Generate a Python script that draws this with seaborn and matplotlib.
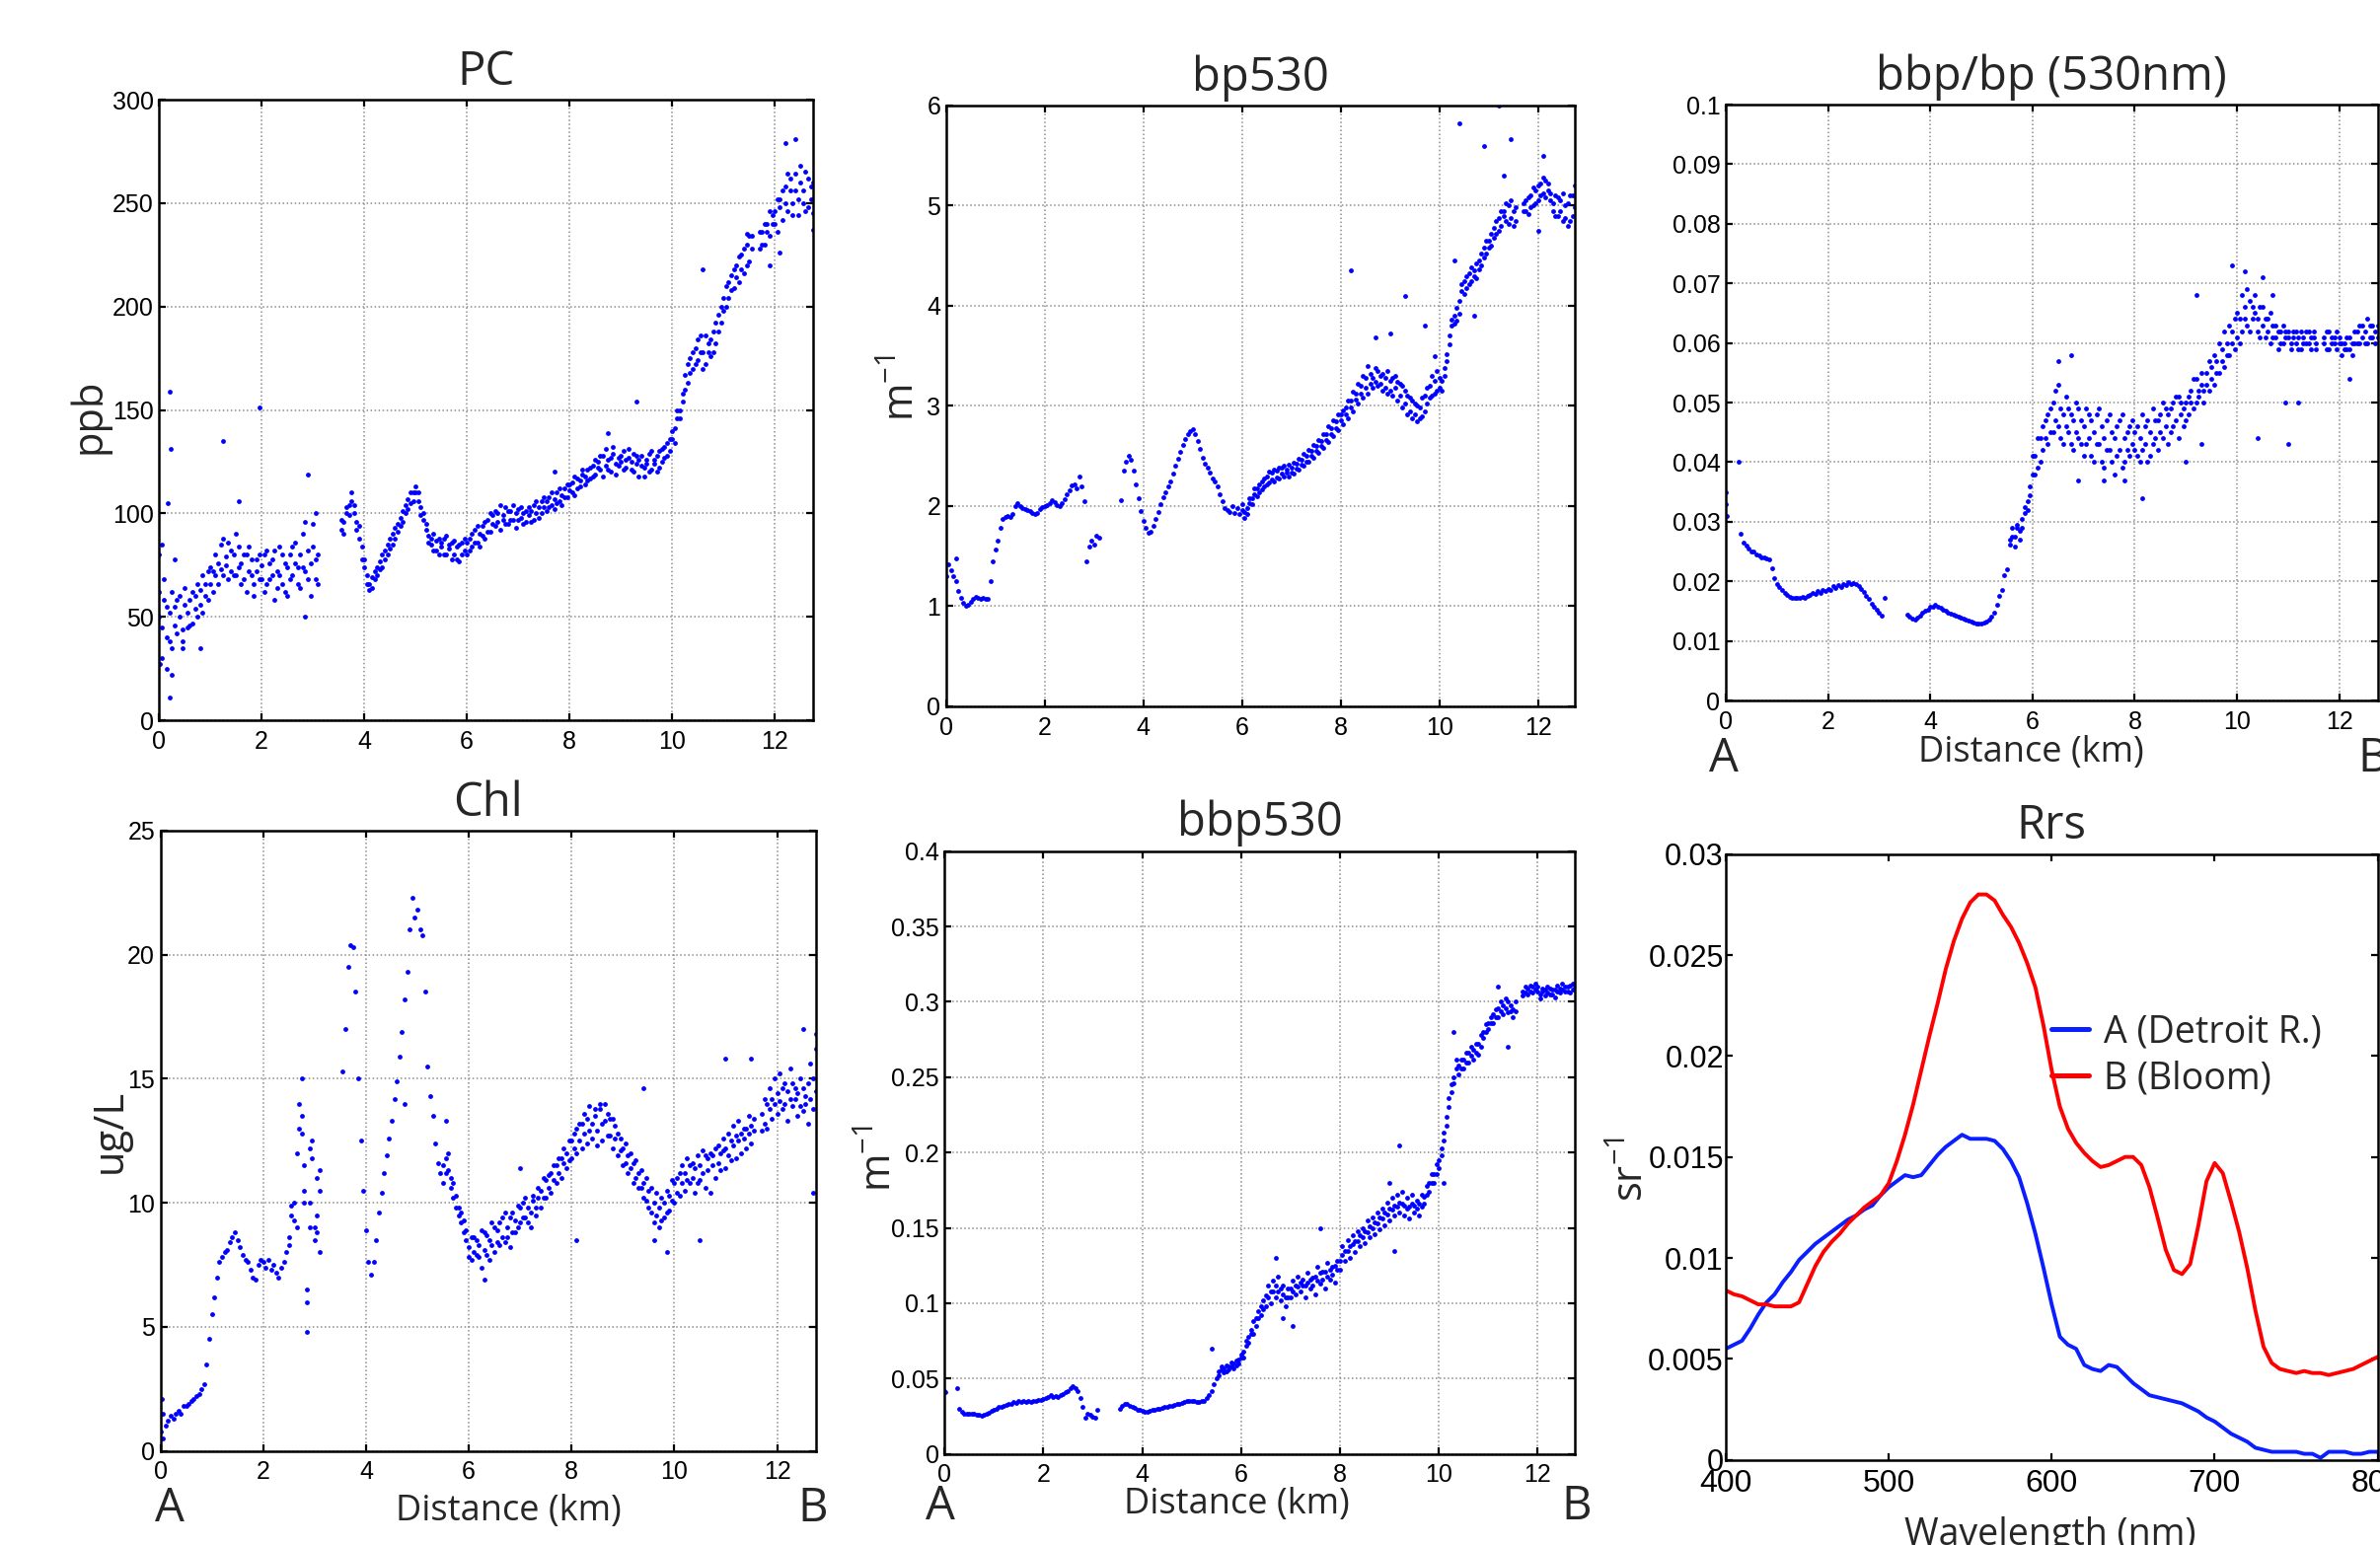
import numpy as np
import matplotlib
matplotlib.use("Agg")
import matplotlib.pyplot as plt
import seaborn as sns
from matplotlib.ticker import FuncFormatter, MultipleLocator

NA = np.nan

# ---- along-track samples (km from A to B) ----
dist_km = [
    0.00, 0.05, 0.10, 0.15, 0.20, 0.25, 0.30, 0.35, 0.40, 0.45, 0.50, 0.55, 0.60, 0.65, 0.70, 0.75, 0.80, 0.85, 0.90, 0.95,
    1.00, 1.05, 1.10, 1.15, 1.20, 1.25, 1.30, 1.35, 1.40, 1.45, 1.50, 1.55, 1.60, 1.65, 1.70, 1.75, 1.80, 1.85, 1.90, 1.95,
    2.00, 2.05, 2.10, 2.15, 2.20, 2.25, 2.30, 2.35, 2.40, 2.45, 2.50, 2.55, 2.60, 2.65, 2.70, 2.75, 2.80, 2.85, 2.90, 2.95,
    3.00, 3.05, 3.10, 3.15, 3.20, 3.25, 3.30, 3.35, 3.40, 3.45, 3.50, 3.55, 3.60, 3.65, 3.70, 3.75, 3.80, 3.85, 3.90, 3.95,
    4.00, 4.05, 4.10, 4.15, 4.20, 4.25, 4.30, 4.35, 4.40, 4.45, 4.50, 4.55, 4.60, 4.65, 4.70, 4.75, 4.80, 4.85, 4.90, 4.95,
    5.00, 5.05, 5.10, 5.15, 5.20, 5.25, 5.30, 5.35, 5.40, 5.45, 5.50, 5.55, 5.60, 5.65, 5.70, 5.75, 5.80, 5.85, 5.90, 5.95,
    6.00, 6.05, 6.10, 6.15, 6.20, 6.25, 6.30, 6.35, 6.40, 6.45, 6.50, 6.55, 6.60, 6.65, 6.70, 6.75, 6.80, 6.85, 6.90, 6.95,
    7.00, 7.05, 7.10, 7.15, 7.20, 7.25, 7.30, 7.35, 7.40, 7.45, 7.50, 7.55, 7.60, 7.65, 7.70, 7.75, 7.80, 7.85, 7.90, 7.95,
    8.00, 8.05, 8.10, 8.15, 8.20, 8.25, 8.30, 8.35, 8.40, 8.45, 8.50, 8.55, 8.60, 8.65, 8.70, 8.75, 8.80, 8.85, 8.90, 8.95,
    9.00, 9.05, 9.10, 9.15, 9.20, 9.25, 9.30, 9.35, 9.40, 9.45, 9.50, 9.55, 9.60, 9.65, 9.70, 9.75, 9.80, 9.85, 9.90, 9.95,
    10.00, 10.05, 10.10, 10.15, 10.20, 10.25, 10.30, 10.35, 10.40, 10.45, 10.50, 10.55, 10.60, 10.65, 10.70, 10.75, 10.80, 10.85, 10.90, 10.95,
    11.00, 11.05, 11.10, 11.15, 11.20, 11.25, 11.30, 11.35, 11.40, 11.45, 11.50, 11.55, 11.60, 11.65, 11.70, 11.75, 11.80, 11.85, 11.90, 11.95,
    12.00, 12.05, 12.10, 12.15, 12.20, 12.25, 12.30, 12.35, 12.40, 12.45, 12.50, 12.55, 12.60, 12.65, 12.70, 12.75,
]

# PC (ppb): two readings per sample across the noisy band
pc_ppb = [
    62, 30, 58, 40, 52, 35, 55, 42, 60, 44, 56, 45, 58, 47, 60, 50, 63, 52, 66, 58,
    66, 72, 70, 76, 73, 88, 75, 68, 82, 70, 90, 74, 66, 80, 62, 84, 70, 60, 78, 68,
    75, 62, 82, 68, 78, 58, 72, 84, 66, 76, 60, 80, 70, 86, 74, 64, 90, 72, 82, 60,
    95, 68, 80, NA, NA, NA, NA, NA, NA, NA, NA, 92, 96, 100, 104, 106, 100, 96, 88, 78,
    74, 70, 63, 69, 68, 74, 73, 80, 78, 85, 83, 90, 88, 95, 94, 101, 100, 107, 105, 110,
    110, 106, 103, 97, 92, 89, 85, 90, 82, 88, 84, 80, 89, 83, 78, 87, 84, 77, 86, 82,
    80, 88, 84, 92, 86, 90, 94, 88, 97, 91, 99, 94, 100, 92, 97, 103, 95, 101, 97, 93,
    97, 103, 95, 101, 99, 96, 104, 100, 98, 106, 103, 101, 108, 104, 102, 110, 106, 104, 112, 108,
    111, 115, 109, 117, 113, 119, 114, 121, 117, 123, 119, 125, 121, 128, 123, 126, 120, 129, 124, 127,
    125, 130, 122, 127, 121, 129, 124, 118, 128, 122, 126, 120, 130, 124, 128, 122, 131, 127, 134, 130,
    136, 141, 146, 150, 158, 167, 163, 175, 170, 180, 174, 186, 178, 172, 182, 176, 188, 182, 196, 192,
    198, 210, 204, 215, 209, 220, 212, 225, 216, 230, 222, 234, NA, NA, 228, 236, 230, 240, 234, 244,
    246, 236, 252, 242, 258, 246, 262, 250, 256, 244, 260, 250, 265, 248, 258, 245,
]
pc_ppb_2 = [
    50, 45, 68, 55, 38, 62, 46, 58, 50, 38, 64, 52, 46, 62, 54, 66, 56, 70, 60, 72,
    74, 62, 80, 66, 85, 70, 79, 86, 72, 80, 70, 84, 76, 68, 80, 72, 78, 66, 72, 80,
    68, 80, 66, 76, 70, 82, 64, 70, 80, 62, 74, 68, 84, 76, 66, 80, 74, 96, 68, 76,
    84, 78, 66, NA, NA, NA, NA, NA, NA, NA, NA, 97, 90, 103, 99, 110, 104, 92, 94, 84,
    78, 66, 66, 64, 72, 70, 77, 74, 82, 80, 88, 85, 93, 91, 98, 96, 104, 102, 110, 106,
    113, 110, 99, 100, 95, 86, 88, 82, 87, 80, 86, 88, 80, 85, 86, 80, 78, 85, 80, 88,
    86, 82, 90, 86, 94, 84, 89, 96, 91, 100, 95, 101, 96, 104, 99, 95, 101, 97, 104, 100,
    102, 98, 100, 96, 103, 101, 97, 106, 103, 100, 108, 106, 103, 110, 107, 105, 112, 109, 108, 114,
    114, 110, 118, 112, 116, 121, 118, 116, 122, 118, 126, 122, 128, 118, 131, 121, 127, 132, 119, 123,
    128, 121, 126, 131, 125, 120, 128, 126, 123, 118, 124, 129, 121, 126, 120, 130, 125, 132, 128, 136,
    140, 134, 150, 146, 154, 160, 172, 168, 178, 172, 184, 178, 170, 186, 178, 184, 178, 192, 188, 200,
    204, 200, 212, 208, 218, 214, 224, 218, 228, 220, 234, 228, NA, NA, 236, 230, 240, 236, 246, 240,
    240, 252, 248, 256, 250, 264, 256, 244, 264, 252, 268, 256, 246, 262, 252, 260,
]
pc_extra = [(0.20, 159), (0.22, 131), (0.18, 105), (0.20, 11), (0.24, 22), (0.05, 85),
            (0.00, 80), (0.02, 27), (0.30, 78), (0.15, 25), (0.45, 35), (0.80, 35),
            (1.25, 135), (1.95, 151), (1.55, 106), (2.90, 119), (2.85, 50), (3.05, 100),
            (7.70, 120), (8.75, 139), (9.30, 154), (10.60, 218), (11.45, 235),
            (11.90, 220), (12.10, 226), (12.20, 279), (12.40, 281), (12.75, 237)]

# bp530 (1/m)
bp_m1 = [
    1.30, 1.42, 1.36, 1.30, 1.25, 1.15, 1.08, 1.03, 1.00, 1.01, 1.04, 1.07, 1.09, 1.08, 1.07, 1.08, 1.07, 1.07, 1.25, 1.45,
    1.57, 1.65, 1.78, 1.87, 1.89, 1.90, 1.89, 1.92, 2.00, 2.03, 2.00, 1.98, 1.97, 1.96, 1.95, 1.93, 1.92, 1.93, 1.97, 1.99,
    2.00, 2.01, 2.03, 2.06, 2.04, 2.01, 2.00, 2.03, 2.07, 2.12, 2.16, 2.21, 2.22, 2.18, 2.30, 2.20, 2.05, 1.45, 1.60, 1.65,
    1.62, 1.70, 1.68, NA, NA, NA, NA, NA, NA, NA, NA, 2.06, 2.35, 2.44, 2.50, 2.46, 2.35, 2.22, 2.08, 1.95,
    1.85, 1.78, 1.73, 1.74, 1.80, 1.87, 1.94, 2.02, 2.09, 2.14, 2.20, 2.25, 2.32, 2.40, 2.47, 2.54, 2.61, 2.67, 2.72, 2.75,
    2.77, 2.72, 2.65, 2.57, 2.48, 2.42, 2.38, 2.33, 2.28, 2.25, 2.20, 2.12, 2.05, 1.98, 1.96, 1.94, 2.00, 1.93, 1.98, 1.92,
    1.96, 1.88, 1.98, 2.03, 2.08, 2.12, 2.18, 2.14, 2.25, 2.20, 2.30, 2.24, 2.33, 2.25, 2.35, 2.28, 2.38, 2.30, 2.36, 2.30,
    2.38, 2.32, 2.42, 2.36, 2.46, 2.40, 2.50, 2.44, 2.55, 2.48, 2.60, 2.53, 2.65, 2.58, 2.72, 2.64, 2.78, 2.70, 2.85, 2.76,
    2.92, 2.82, 2.98, 2.88, 3.05, 2.95, 3.12, 3.02, 3.20, 3.08, 3.28, 3.12, 3.32, 3.18, 3.38, 3.20, 3.30, 3.15, 3.28, 3.12,
    3.25, 3.10, 3.30, 3.05, 3.22, 2.98, 3.15, 2.92, 3.08, 2.88, 3.02, 2.85, 2.98, 2.90, 3.10, 3.02, 3.20, 3.10, 3.25, 3.15,
    3.18, 3.25, 3.30, 3.45, 3.62, 3.80, 3.90, 3.85, 4.05, 4.15, 4.25, 4.18, 4.32, 4.25, 4.35, 4.28, 4.45, 4.40, 4.58, 4.52,
    4.65, 4.60, 4.78, 4.72, 4.88, 4.80, 4.95, 4.85, 5.00, 4.88, 4.95, 4.85, NA, NA, 4.95, 5.05, 4.92, 5.10, 5.00, 5.15,
    5.05, 5.22, 5.12, 5.25, 5.15, 5.05, 4.95, 5.10, 4.90, 5.05, 4.85, 5.00, 4.80, 5.10, 4.90, 5.20,
]
bp_m1_2 = [
    NA, NA, NA, NA, NA, NA, NA, NA, NA, NA, NA, NA, NA, NA, NA, NA, NA, NA, NA, NA,
    NA, NA, NA, NA, NA, NA, NA, NA, NA, NA, NA, NA, NA, NA, NA, NA, NA, NA, NA, NA,
    NA, NA, NA, NA, NA, NA, NA, NA, NA, NA, NA, NA, NA, NA, NA, NA, NA, NA, NA, NA,
    NA, NA, NA, NA, NA, NA, NA, NA, NA, NA, NA, NA, NA, NA, NA, NA, NA, NA, NA, NA,
    NA, NA, NA, NA, NA, NA, NA, NA, NA, NA, NA, NA, NA, NA, NA, NA, NA, NA, NA, NA,
    NA, NA, NA, NA, NA, NA, NA, NA, NA, NA, NA, NA, NA, NA, NA, NA, NA, NA, NA, NA,
    2.02, 1.94, 1.92, 2.08, 2.02, 2.18, 2.10, 2.22, 2.17, 2.28, 2.22, 2.34, 2.27, 2.36, 2.29, 2.38, 2.32, 2.40, 2.33, 2.41,
    2.33, 2.43, 2.37, 2.47, 2.41, 2.52, 2.44, 2.56, 2.50, 2.61, 2.55, 2.66, 2.60, 2.72, 2.66, 2.80, 2.72, 2.86, 2.78, 2.92,
    2.86, 2.96, 2.92, 3.05, 2.98, 3.14, 3.06, 3.22, 3.12, 3.30, 3.18, 3.40, 3.22, 3.28, 3.24, 3.35, 3.22, 3.32, 3.18, 3.35,
    3.15, 3.28, 3.18, 3.24, 3.10, 3.20, 3.02, 3.10, 2.95, 3.05, 2.92, 3.00, 2.88, 3.08, 2.95, 3.18, 3.08, 3.30, 3.12, 3.35,
    3.28, 3.15, 3.38, 3.52, 3.70, 3.86, 3.82, 3.98, 3.92, 4.22, 4.12, 4.30, 4.22, 4.38, 4.30, 4.42, 4.36, 4.52, 4.48, 4.65,
    4.58, 4.72, 4.68, 4.85, 4.75, 4.95, 4.90, 5.02, 4.82, 5.05, 4.80, 4.98, NA, NA, 5.02, 4.95, 5.08, 4.98, 5.18, 5.02,
    5.20, 5.10, 5.28, 5.08, 5.22, 5.12, 5.02, 4.90, 5.08, 4.95, 5.12, 4.88, 5.02, 4.85, 5.10, 4.98,
]
bp_extra = [(0.20, 1.48), (8.20, 4.35), (8.70, 3.68), (9.00, 3.72), (9.30, 4.10), (9.70, 3.80),
            (9.90, 3.50), (10.30, 4.45), (10.40, 5.82), (10.70, 3.90), (10.90, 5.60),
            (11.20, 6.00), (11.30, 5.30), (11.45, 5.66), (12.00, 4.75), (12.10, 5.50)]

# bbp/bp at 530 nm
ratio = [
    0.035, NA, NA, NA, NA, 0.040, 0.028, 0.0265, 0.026, 0.0255, 0.025, 0.025, 0.0245, 0.0243, 0.024, 0.024, 0.0238, 0.0236, 0.0222, 0.0205,
    0.0195, 0.019, 0.0185, 0.018, 0.0177, 0.0174, 0.0173, 0.0172, 0.0173, 0.0172, 0.0174, 0.0173, 0.0176, 0.0178, 0.0181, 0.0179, 0.0183, 0.0181, 0.0185, 0.0183,
    0.0187, 0.0185, 0.0192, 0.0188, 0.0194, 0.019, 0.0196, 0.0193, 0.0198, 0.0195, 0.0197, 0.0195, 0.0192, 0.0187, 0.0182, 0.0176, 0.017, 0.0163, 0.0158, 0.0152,
    0.0148, 0.0143, 0.0172, NA, NA, NA, NA, NA, NA, NA, NA, 0.0144, 0.014, 0.0137, 0.0136, 0.0139, 0.0143, 0.0147, 0.015, 0.0153,
    0.0158, 0.0157, 0.0161, 0.0158, 0.0155, 0.0153, 0.015, 0.0148, 0.0146, 0.0144, 0.0142, 0.014, 0.0139, 0.0137, 0.0136, 0.0134, 0.0133, 0.0131, 0.013, 0.0129,
    0.013, 0.0131, 0.0133, 0.0136, 0.014, 0.0148, 0.016, 0.0175, 0.0185, 0.021, 0.022, 0.0262, 0.0275, 0.0258, 0.029, 0.027, 0.0305, 0.0315, 0.0335, 0.036,
    0.038, 0.041, 0.039, 0.044, 0.042, 0.047, 0.043, 0.049, 0.045, 0.052, 0.046, 0.049, 0.043, 0.051, 0.045, 0.048, 0.042, 0.050, 0.044, 0.047,
    0.041, 0.049, 0.044, 0.047, 0.040, 0.048, 0.043, 0.046, 0.039, 0.047, 0.042, 0.045, 0.038, 0.046, 0.042, 0.048, 0.040, 0.045, 0.041, 0.047,
    0.042, 0.046, 0.040, 0.048, 0.043, 0.047, 0.041, 0.049, 0.044, 0.047, 0.045, 0.050, 0.046, 0.048, 0.045, 0.050, 0.047, 0.051, 0.048, 0.046,
    0.050, 0.048, 0.052, 0.049, 0.054, 0.051, 0.053, 0.050, 0.055, 0.052, 0.056, 0.053, 0.057, 0.055, 0.059, 0.056, 0.060, 0.058, 0.062, 0.059,
    0.061, 0.064, 0.062, 0.066, 0.063, 0.067, 0.064, 0.065, 0.062, 0.066, 0.063, 0.061, 0.064, 0.060, 0.063, 0.061, 0.059, 0.062, 0.060, 0.062,
    0.061, 0.059, 0.062, 0.060, 0.061, 0.059, 0.061, 0.060, 0.062, 0.059, 0.061, 0.060, NA, NA, 0.061, 0.059, 0.062, 0.060, 0.061, 0.059,
    0.060, 0.058, 0.060, 0.059, 0.061, 0.058, 0.062, 0.060, 0.063, 0.061, 0.062, 0.060, 0.063, 0.061, 0.062, 0.061,
]
ratio_2 = [
    NA, NA, NA, NA, NA, NA, NA, NA, NA, NA, NA, NA, NA, NA, NA, NA, NA, NA, NA, NA,
    NA, NA, NA, NA, NA, NA, NA, NA, NA, NA, NA, NA, NA, NA, NA, NA, NA, NA, NA, NA,
    NA, NA, NA, NA, NA, NA, NA, NA, NA, NA, NA, NA, NA, NA, NA, NA, NA, NA, NA, NA,
    NA, NA, NA, NA, NA, NA, NA, NA, NA, NA, NA, NA, NA, NA, NA, NA, NA, NA, NA, NA,
    NA, NA, NA, NA, NA, NA, NA, NA, NA, NA, NA, NA, NA, NA, NA, NA, NA, NA, NA, NA,
    NA, NA, NA, NA, NA, NA, NA, NA, NA, NA, NA, 0.027, 0.029, 0.0275, 0.0295, 0.0285, 0.029, 0.0325, 0.032, 0.0345,
    0.041, 0.038, 0.044, 0.040, 0.046, 0.044, 0.048, 0.045, 0.050, 0.047, 0.053, 0.044, 0.048, 0.046, 0.049, 0.043, 0.047, 0.045, 0.049, 0.043,
    0.046, 0.043, 0.048, 0.041, 0.045, 0.043, 0.049, 0.040, 0.044, 0.042, 0.048, 0.040, 0.044, 0.041, 0.047, 0.039, 0.044, 0.042, 0.046, 0.043,
    0.045, 0.041, 0.044, 0.042, 0.046, 0.040, 0.045, 0.043, 0.047, 0.042, 0.048, 0.044, 0.049, 0.043, 0.049, 0.046, 0.051, 0.044, 0.050, 0.049,
    0.047, 0.051, 0.050, 0.054, 0.050, 0.052, 0.055, 0.052, 0.053, 0.057, 0.054, 0.058, 0.055, 0.060, 0.057, 0.062, 0.058, 0.063, 0.060, 0.064,
    0.065, 0.060, 0.068, 0.064, 0.069, 0.062, 0.066, 0.068, 0.064, 0.061, 0.066, 0.064, 0.062, 0.065, 0.061, 0.063, 0.062, 0.060, 0.063, 0.061,
    0.062, 0.060, 0.061, 0.062, 0.059, 0.062, 0.060, 0.062, 0.060, 0.061, 0.062, 0.059, NA, NA, 0.060, 0.062, 0.059, 0.061, 0.060, 0.062,
    0.061, 0.060, 0.059, 0.061, 0.059, 0.060, 0.060, 0.062, 0.060, 0.063, 0.060, 0.064, 0.061, 0.063, 0.060, 0.063,
]
ratio_extra = [(0.01, 0.033), (0.02, 0.031), (6.50, 0.057), (6.75, 0.058), (6.90, 0.037),
               (7.40, 0.037), (7.80, 0.037), (8.15, 0.034), (9.00, 0.040), (9.20, 0.068),
               (9.30, 0.043), (9.90, 0.073), (10.15, 0.072), (10.40, 0.044), (10.50, 0.071),
               (10.70, 0.068), (10.95, 0.050), (11.00, 0.043), (11.20, 0.050), (12.20, 0.054)]

# Chl (ug/L)
chl_ugl = [
    0.8, 1.5, 1.0, 1.2, 1.4, 1.3, 1.5, 1.6, 1.5, 1.8, 1.8, 1.9, 2.0, 2.1, 2.2, 2.3, 2.5, 2.7, 3.5, 4.5,
    5.5, 6.2, 7.0, 7.6, 7.8, 8.0, 8.1, 8.4, 8.6, 8.8, 8.5, 8.2, 7.9, 7.7, 7.6, 7.3, 7.0, 6.9, 7.5, 7.7,
    7.6, 7.4, 7.7, 7.3, 7.5, 7.2, 7.0, 7.4, 7.6, 8.0, 8.6, 9.5, 10.0, 9.0, 13.0, 13.5, 11.5, 6.5, 10.0, 12.5,
    9.0, 8.8, 10.5, NA, NA, NA, NA, NA, NA, NA, NA, 15.3, 17.0, 19.5, 20.4, 20.3, 18.5, 15.0, 12.5, 10.5,
    8.9, 7.6, 7.1, 7.6, 8.5, 9.6, 10.4, 11.2, 11.9, 12.6, 13.3, 14.2, 14.9, 15.9, 16.9, 18.2, 19.3, 21.0, 22.3, 21.5,
    21.8, 21.0, 20.8, 18.5, 15.5, 14.3, 13.5, 12.4, 11.6, 11.2, 10.8, 11.8, 11.3, 10.6, 10.2, 9.8, 9.5, 9.2, 8.8, 8.5,
    8.2, 7.7, 8.6, 7.9, 8.3, 7.4, 8.8, 7.9, 8.5, 9.2, 8.0, 8.9, 8.3, 9.4, 8.4, 9.0, 8.2, 9.6, 8.8, 9.9,
    9.2, 10.0, 9.4, 9.8, 9.0, 10.3, 9.5, 10.6, 9.8, 11.0, 10.2, 11.1, 10.4, 11.5, 10.8, 11.8, 11.0, 12.2, 11.4, 12.5,
    11.8, 12.8, 12.0, 13.2, 12.2, 13.6, 12.4, 13.9, 12.6, 13.5, 12.3, 13.8, 12.5, 14.0, 12.7, 13.4, 12.2, 13.1, 11.9, 12.6,
    11.5, 12.4, 11.2, 12.0, 10.8, 11.7, 10.6, 11.3, 10.2, 11.0, 9.8, 10.6, 9.2, 10.4, 9.0, 10.2, 9.4, 10.5, 9.7, 10.9,
    10.0, 11.0, 10.3, 11.5, 10.5, 11.8, 10.8, 11.6, 10.4, 11.9, 10.9, 12.1, 10.6, 11.8, 10.4, 11.9, 11.0, 12.3, 11.3, 12.6,
    11.4, 12.8, 11.7, 13.1, 11.8, 13.3, 12.0, 13.0, 12.2, 13.5, 12.4, 13.4, NA, NA, 12.9, 14.2, 13.0, 14.6, 13.4, 15.0,
    13.6, 15.2, 13.8, 14.8, 13.3, 15.4, 13.9, 14.6, 13.5, 15.0, 13.7, 14.3, 13.2, 15.6, 13.8, 16.2,
]
chl_ugl_2 = [
    NA, NA, NA, NA, NA, NA, NA, NA, NA, NA, NA, NA, NA, NA, NA, NA, NA, NA, NA, NA,
    NA, NA, NA, NA, NA, NA, NA, NA, NA, NA, NA, NA, NA, NA, NA, NA, NA, NA, NA, NA,
    NA, NA, NA, NA, NA, NA, NA, NA, NA, NA, 8.3, 9.9, 9.3, 12.0, 14.0, 12.8, 10.5, 6.0, 9.0, 11.8,
    8.5, 9.5, 11.3, NA, NA, NA, NA, NA, NA, NA, NA, NA, NA, NA, NA, NA, NA, NA, NA, NA,
    NA, NA, NA, NA, NA, NA, NA, NA, NA, NA, NA, NA, NA, NA, NA, NA, NA, NA, NA, NA,
    NA, NA, NA, NA, NA, NA, NA, NA, NA, NA, 11.5, 11.2, 12.0, 11.0, 10.8, 10.3, 9.8, 9.6, 9.3, 8.9,
    7.8, 8.6, 8.0, 8.5, 7.8, 8.9, 8.1, 8.7, 7.7, 8.3, 9.0, 8.4, 9.2, 8.6, 9.6, 8.6, 9.4, 8.8, 9.3, 9.0,
    9.8, 9.4, 10.2, 9.2, 9.6, 10.1, 9.8, 10.2, 10.5, 10.2, 10.9, 10.6, 11.2, 10.9, 11.5, 11.2, 11.8, 11.6, 12.0, 11.7,
    12.5, 12.2, 13.0, 12.5, 13.2, 12.8, 13.4, 12.9, 13.2, 13.8, 12.9, 14.0, 13.2, 13.3, 13.6, 12.7, 13.4, 12.6, 12.8, 12.1,
    12.2, 11.6, 11.9, 11.4, 11.6, 11.0, 11.2, 10.6, 10.8, 10.1, 10.5, 9.6, 10.0, 9.5, 9.8, 9.3, 10.0, 9.6, 10.3, 10.1,
    10.8, 10.4, 11.2, 10.8, 11.2, 10.9, 11.5, 11.0, 11.4, 10.8, 11.5, 11.2, 11.9, 11.3, 12.0, 11.5, 12.2, 11.6, 12.0, 12.1,
    12.2, 11.9, 12.5, 12.3, 12.7, 12.5, 12.8, 12.6, 13.0, 12.8, 13.1, 12.9, NA, NA, 13.6, 13.2, 14.0, 13.8, 14.2, 14.0,
    14.4, 14.1, 14.6, 14.0, 14.5, 14.2, 14.8, 14.2, 14.4, 13.9, 14.6, 14.0, 14.8, 14.2, 15.0, 14.5,
]
chl_extra = [(0.02, 2.1), (0.05, 0.5), (2.75, 15.0), (2.80, 10.0), (2.85, 4.8), (2.90, 12.2),
             (3.05, 11.0), (3.10, 8.0), (4.75, 14.0), (5.55, 13.3), (6.30, 6.9), (7.00, 11.4),
             (8.10, 8.5), (9.40, 14.6), (9.60, 8.5), (9.85, 8.0), (10.50, 8.5), (11.00, 15.8),
             (11.50, 15.8), (12.50, 17.0), (12.70, 10.4), (12.75, 16.8)]

# bbp530 (1/m)
bbp_m1 = [
    0.042, NA, NA, NA, NA, 0.044, 0.030, 0.028, 0.027, 0.0265, 0.027, 0.0268, 0.0265, 0.026, 0.0258, 0.0257, 0.026, 0.0265, 0.0275, 0.0285,
    0.029, 0.030, 0.031, 0.0315, 0.032, 0.0325, 0.033, 0.0335, 0.0345, 0.034, 0.035, 0.0345, 0.035, 0.0348, 0.0352, 0.0348, 0.0355, 0.035, 0.036, 0.0358,
    0.0365, 0.037, 0.0375, 0.039, 0.038, 0.0385, 0.038, 0.039, 0.0395, 0.041, 0.042, 0.044, 0.045, 0.0435, 0.042, 0.037, 0.031, 0.024, 0.027, 0.026,
    0.025, 0.024, 0.029, NA, NA, NA, NA, NA, NA, NA, NA, 0.030, 0.032, 0.033, 0.033, 0.032, 0.0315, 0.0305, 0.0295, 0.029,
    0.0285, 0.028, 0.0278, 0.0285, 0.029, 0.0295, 0.030, 0.0302, 0.0305, 0.031, 0.0312, 0.0318, 0.032, 0.0325, 0.033, 0.0335, 0.034, 0.0345, 0.035, 0.0352,
    0.0355, 0.035, 0.0348, 0.0345, 0.035, 0.0355, 0.037, 0.039, 0.042, 0.046, 0.050, 0.055, 0.058, 0.054, 0.059, 0.056, 0.061, 0.057, 0.062, 0.060,
    0.064, 0.068, 0.072, 0.078, 0.082, 0.088, 0.085, 0.095, 0.092, 0.102, 0.098, 0.112, 0.100, 0.115, 0.104, 0.118, 0.102, 0.112, 0.098, 0.110,
    0.104, 0.115, 0.106, 0.118, 0.108, 0.112, 0.104, 0.120, 0.110, 0.117, 0.106, 0.124, 0.113, 0.121, 0.110, 0.127, 0.116, 0.124, 0.114, 0.128,
    0.122, 0.138, 0.128, 0.142, 0.130, 0.145, 0.134, 0.148, 0.138, 0.150, 0.140, 0.155, 0.144, 0.157, 0.146, 0.160, 0.149, 0.163, 0.152, 0.167,
    0.155, 0.170, 0.158, 0.172, 0.160, 0.174, 0.158, 0.170, 0.156, 0.172, 0.160, 0.168, 0.158, 0.172, 0.166, 0.178, 0.174, 0.186, 0.180, 0.192,
    0.190, 0.198, 0.208, 0.218, 0.230, 0.240, 0.250, 0.256, 0.252, 0.262, 0.256, 0.266, 0.260, 0.270, 0.262, 0.272, 0.265, 0.278, 0.276, 0.285,
    0.282, 0.290, 0.286, 0.295, 0.290, 0.300, 0.292, 0.302, 0.293, 0.298, 0.290, 0.300, NA, NA, 0.304, 0.310, 0.305, 0.311, 0.306, 0.312,
    0.307, 0.302, 0.309, 0.304, 0.310, 0.305, 0.308, 0.303, 0.311, 0.306, 0.312, 0.307, 0.310, 0.306, 0.312, 0.308,
]
bbp_m1_2 = [
    NA, NA, NA, NA, NA, NA, NA, NA, NA, NA, NA, NA, NA, NA, NA, NA, NA, NA, NA, NA,
    NA, NA, NA, NA, NA, NA, NA, NA, NA, NA, NA, NA, NA, NA, NA, NA, NA, NA, NA, NA,
    NA, NA, NA, NA, NA, NA, NA, NA, NA, NA, NA, NA, NA, NA, NA, NA, NA, NA, NA, NA,
    NA, NA, NA, NA, NA, NA, NA, NA, NA, NA, NA, NA, NA, NA, NA, NA, NA, NA, NA, NA,
    NA, NA, NA, NA, NA, NA, NA, NA, NA, NA, NA, NA, NA, NA, NA, NA, NA, NA, NA, NA,
    NA, NA, NA, NA, NA, NA, NA, NA, NA, NA, NA, 0.052, 0.056, 0.057, 0.055, 0.058, 0.058, 0.060, 0.059, 0.063,
    0.066, 0.064, 0.075, 0.074, 0.080, 0.080, 0.090, 0.090, 0.098, 0.096, 0.105, 0.104, 0.108, 0.108, 0.112, 0.108, 0.110, 0.106, 0.104, 0.104,
    0.110, 0.108, 0.112, 0.111, 0.114, 0.116, 0.112, 0.114, 0.116, 0.112, 0.118, 0.115, 0.120, 0.116, 0.121, 0.118, 0.122, 0.119, 0.125, 0.122,
    0.128, 0.132, 0.135, 0.135, 0.138, 0.139, 0.141, 0.141, 0.145, 0.144, 0.148, 0.147, 0.151, 0.150, 0.154, 0.153, 0.157, 0.156, 0.160, 0.159,
    0.163, 0.162, 0.165, 0.164, 0.167, 0.166, 0.165, 0.163, 0.164, 0.166, 0.165, 0.163, 0.166, 0.164, 0.171, 0.172, 0.180, 0.180, 0.186, 0.186,
    0.195, 0.203, 0.213, 0.224, 0.236, 0.245, 0.246, 0.262, 0.258, 0.256, 0.262, 0.260, 0.266, 0.264, 0.268, 0.266, 0.272, 0.270, 0.280, 0.280,
    0.286, 0.286, 0.292, 0.290, 0.296, 0.294, 0.298, 0.296, 0.300, 0.294, 0.295, 0.294, NA, NA, 0.307, 0.306, 0.309, 0.307, 0.310, 0.308,
    0.310, 0.305, 0.307, 0.308, 0.306, 0.309, 0.305, 0.308, 0.307, 0.309, 0.308, 0.310, 0.307, 0.311, 0.308, 0.311,
]
bbp_extra = [(0.02, 0.041), (5.40, 0.070), (6.70, 0.130), (6.85, 0.090), (7.05, 0.085),
             (7.60, 0.150), (9.00, 0.180), (9.10, 0.135), (9.20, 0.205), (10.10, 0.180),
             (10.30, 0.280), (11.20, 0.310), (11.40, 0.270)]

# Rrs spectra (1/sr)
wavelength_nm = [
    400, 405, 410, 415, 420, 425, 430, 435, 440, 445, 450, 455, 460, 465, 470, 475, 480, 485, 490, 495,
    500, 505, 510, 515, 520, 525, 530, 535, 540, 545, 550, 555, 560, 565, 570, 575, 580, 585, 590, 595,
    600, 605, 610, 615, 620, 625, 630, 635, 640, 645, 650, 655, 660, 665, 670, 675, 680, 685, 690, 695,
    700, 705, 710, 715, 720, 725, 730, 735, 740, 745, 750, 755, 760, 765, 770, 775, 780, 785, 790, 795, 800,
]
rrs_a = [
    0.0055, 0.0057, 0.0059, 0.0065, 0.0072, 0.0078, 0.0082, 0.0088, 0.0093, 0.0099, 0.0103, 0.0107, 0.0110, 0.0113, 0.0116, 0.0119, 0.0121, 0.0124, 0.0126, 0.0131,
    0.0135, 0.0138, 0.0141, 0.0140, 0.0141, 0.0146, 0.0151, 0.0155, 0.0158, 0.0161, 0.0159, 0.0159, 0.0159, 0.0158, 0.0154, 0.0148, 0.0140, 0.0127, 0.0112, 0.0095,
    0.0077, 0.0061, 0.0057, 0.0055, 0.0047, 0.0045, 0.0044, 0.0047, 0.0046, 0.0042, 0.0038, 0.0035, 0.0032, 0.0031, 0.0030, 0.0029, 0.0028, 0.0026, 0.0024, 0.0021,
    0.0019, 0.0016, 0.0013, 0.0011, 0.0009, 0.0006, 0.0005, 0.0004, 0.0004, 0.0004, 0.0004, 0.0003, 0.0003, 0.0001, 0.0004, 0.0004, 0.0004, 0.0003, 0.0003, 0.0004, 0.0004,
]
rrs_b = [
    0.0084, 0.0082, 0.0081, 0.0079, 0.0077, 0.0077, 0.0076, 0.0076, 0.0076, 0.0078, 0.0087, 0.0096, 0.0103, 0.0108, 0.0112, 0.0117, 0.0121, 0.0125, 0.0128, 0.0131,
    0.0137, 0.0148, 0.0161, 0.0176, 0.0193, 0.0210, 0.0226, 0.0243, 0.0257, 0.0268, 0.0276, 0.0280, 0.0280, 0.0277, 0.0270, 0.0264, 0.0256, 0.0246, 0.0234, 0.0215,
    0.0193, 0.0175, 0.0164, 0.0157, 0.0152, 0.0148, 0.0145, 0.0146, 0.0148, 0.0150, 0.0150, 0.0146, 0.0135, 0.0120, 0.0104, 0.0094, 0.0092, 0.0097, 0.0116, 0.0138,
    0.0147, 0.0142, 0.0128, 0.0113, 0.0095, 0.0074, 0.0056, 0.0048, 0.0045, 0.0044, 0.0043, 0.0044, 0.0043, 0.0043, 0.0042, 0.0043, 0.0044, 0.0045, 0.0047, 0.0049, 0.0051,
]

# ---- style ----
sns.set_style("ticks")
plt.rcParams["font.family"] = ["Liberation Sans Narrow", "Liberation Sans", "DejaVu Sans"]
plt.rcParams.update({
    "mathtext.default": "regular",
    "axes.linewidth": 1.8,
    "axes.edgecolor": "black",
    "xtick.direction": "in",
    "ytick.direction": "in",
    "xtick.top": True,
    "ytick.right": True,
    "xtick.major.size": 5,
    "ytick.major.size": 5,
    "xtick.major.width": 1.6,
    "ytick.major.width": 1.6,
    "xtick.color": "black",
    "ytick.color": "black",
})
TXT = ["Open Sans", "DejaVu Sans"]
DOT = "#0000ff"
fmt = FuncFormatter(lambda v, p: f"{v:g}")

fig = plt.figure(figsize=(24.12, 15.66), dpi=100)


def frame(ax, tick_size=18):
    ax.grid(True, linestyle=":", color="#8c8c8c", linewidth=1.1)
    ax.set_axisbelow(True)
    ax.yaxis.set_major_formatter(fmt)
    ax.xaxis.set_major_formatter(fmt)
    ax.tick_params(axis="y", labelsize=tick_size, pad=4)
    ax.tick_params(axis="x", labelsize=tick_size, pad=7)


def track(rect, vals, vals2, extra, title, ylabel, ytop, ystep, ylab_xy):
    ax = fig.add_axes(rect)
    xs = dist_km + dist_km + [p[0] for p in extra]
    ys = vals + vals2 + [p[1] for p in extra]
    sns.scatterplot(x=xs, y=ys, ax=ax, color=DOT, s=12, linewidth=0, legend=False)
    ax.set_xlim(0, 12.75)
    ax.set_ylim(0, ytop)
    ax.xaxis.set_major_locator(MultipleLocator(2))
    ax.yaxis.set_major_locator(MultipleLocator(ystep))
    frame(ax)
    ax.set_title(title, family=TXT, fontsize=34, pad=11)
    ax.set_ylabel(ylabel, family=TXT, fontsize=30)
    ax.yaxis.set_label_coords(*ylab_xy)
    return ax


def ends(ax, xlab_xy, a_xy, b_xy):
    ax.set_xlabel("Distance (km)", family=TXT, fontsize=26)
    ax.xaxis.set_label_coords(*xlab_xy)
    ax.xaxis.label.set_va("top")
    ax.text(*a_xy, "A", transform=ax.transAxes, family=TXT, fontsize=34, ha="center", va="center")
    ax.text(*b_xy, "B", transform=ax.transAxes, family=TXT, fontsize=34, ha="center", va="center")


ax_pc = track([0.0668, 0.5338, 0.2749, 0.4017], pc_ppb, pc_ppb_2, pc_extra,
              "PC", "ppb", 300, 50, (-0.075, 0.49))
ax_bp = track([0.3975, 0.5428, 0.2642, 0.3889], bp_m1, bp_m1_2, bp_extra,
              "bp530", "m$^{-1}$", 6, 1, (-0.036, 0.53))
ax_rt = track([0.7251, 0.5466, 0.2739, 0.3857], ratio, ratio_2, ratio_extra,
              "bbp/bp (530nm)", "", 0.1, 0.01, (-0.1, 0.5))
ends(ax_rt, (0.468, -0.058), (-0.003, -0.098), (0.993, -0.098))

ax_chl = track([0.0674, 0.0609, 0.2753, 0.4015], chl_ugl, chl_ugl_2, chl_extra,
               "Chl", "ug/L", 25, 5, (-0.045, 0.515))
ends(ax_chl, (0.531, -0.069), (0.014, -0.094), (0.996, -0.094))
ax_bbp = track([0.3968, 0.0589, 0.2649, 0.3902], bbp_m1, bbp_m1_2, bbp_extra,
               "bbp530", "m$^{-1}$", 0.4, 0.05, (-0.069, 0.49))
ends(ax_bbp, (0.463, -0.0545), (-0.006, -0.087), (1.003, -0.087))

# Rrs spectra
ax_r = fig.add_axes([0.7251, 0.0551, 0.2739, 0.3921])
sns.lineplot(x=wavelength_nm, y=rrs_a, ax=ax_r, color="#0a1eff", linewidth=2.8,
             label="A (Detroit R.)", estimator=None)
sns.lineplot(x=wavelength_nm, y=rrs_b, ax=ax_r, color="#ff0000", linewidth=2.8,
             label="B (Bloom)", estimator=None)
ax_r.set_xlim(400, 800)
ax_r.set_ylim(0, 0.03)
ax_r.xaxis.set_major_locator(MultipleLocator(100))
ax_r.yaxis.set_major_locator(MultipleLocator(0.005))
ax_r.yaxis.set_major_formatter(fmt)
ax_r.xaxis.set_major_formatter(fmt)
ax_r.tick_params(axis="y", labelsize=22, pad=1.5)
ax_r.tick_params(axis="x", labelsize=23, pad=6.5)
ax_r.set_title("Rrs", family=TXT, fontsize=34, pad=11)
ax_r.set_ylabel("sr$^{-1}$", family=TXT, fontsize=30)
ax_r.yaxis.set_label_coords(-0.112, 0.48)
ax_r.set_xlabel("Wavelength (nm)", family=TXT, fontsize=27)
ax_r.xaxis.set_label_coords(0.497, -0.093)
ax_r.xaxis.label.set_va("top")
leg = ax_r.legend(loc="upper left", bbox_to_anchor=(0.5, 0.737), frameon=False,
                  prop={"family": TXT, "size": 27}, handlelength=1.0, handletextpad=0.4,
                  labelspacing=0.25, borderpad=0, borderaxespad=0)
for h in leg.get_lines():
    h.set_linewidth(3.6)

fig.savefig("out.png", dpi=100)
